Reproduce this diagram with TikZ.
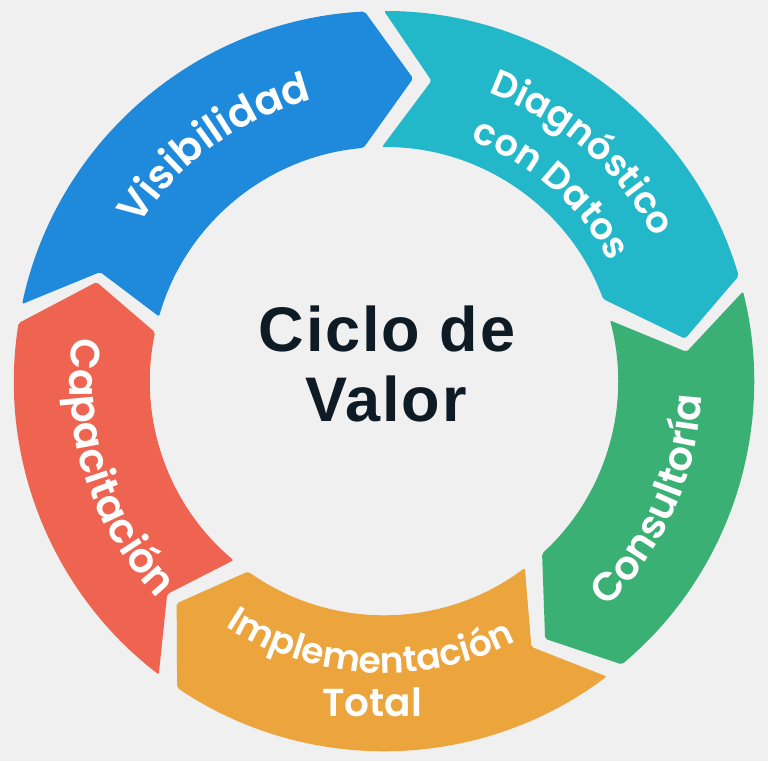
\documentclass[tikz,border=0pt]{standalone}
\usepackage{fontspec}
\usetikzlibrary{decorations.text}
\newfontfamily\labfont{Poppins}[BoldFont={Poppins SemiBold}]
\newfontfamily\cenfont{Liberation Sans}[LetterSpace=3]
\definecolor{bg}{HTML}{F0F0F0}
\definecolor{cblue}{HTML}{1F8ADB}
\definecolor{cteal}{HTML}{22B7C9}
\definecolor{cgreen}{HTML}{3AB075}
\definecolor{corange}{HTML}{ECA43C}
\definecolor{cred}{HTML}{EF6450}
\definecolor{navy}{HTML}{0E1A24}
\def\Ro{370}
\def\Ri{234}
\def\Rm{304}
% color, outer start, inner start, notch, outer end, inner end, tip
\newcommand\cycseg[7]{%
  \fill[#1, rounded corners=2pt] (#2:\Ro) arc[start angle=#2, end angle=#5, radius=\Ro]
    -- (#7:\Rm) -- (#6:\Ri) arc[start angle=#6, end angle=#3, radius=\Ri]
    -- (#4:\Rm) -- cycle;}
\newcommand\lbl[1]{\labfont\bfseries\fontsize{#1}{#1}\selectfont\color{white}}
\begin{document}
\begin{tikzpicture}[x=1pt,y=1pt,
  curvlab/.style={decorate, decoration={text along path, text align=center, text={#1}}}]
\fill[bg] (-384,-380) rectangle (384,381);
\useasboundingbox (-384,-380) rectangle (384,381);
\cycseg{cblue}{168}{164}{159}{93}{95}{84.5}
\cycseg{cteal}{90}{90.5}{81}{16.5}{20.5}{8}
\cycseg{cgreen}{14}{15}{5.5}{-50}{-47.5}{-58}
\cycseg{corange}{-53}{-53}{-61}{-124}{-125.5}{-133}
\cycseg{cred}{232.5}{230}{224.5}{171}{168}{161}
% curved labels
\path[curvlab={|\lbl{41}|Visibilidad}] (158:290) arc[start angle=158, end angle=94, radius=290];
\path[curvlab={|\lbl{37}|Diagnóstico}] (89:306) arc[start angle=89, end angle=9, radius=306];
\path[curvlab={|\lbl{37}|con Datos}] (89:255) arc[start angle=89, end angle=9, radius=255];
\path[curvlab={|\lbl{40}|Consultoría}] (-64:318) arc[start angle=-64, end angle=16, radius=318];
\path[curvlab={|\lbl{41}|Capacitación}] (158:314) arc[start angle=158, end angle=238, radius=314];
\path[curvlab={|\lbl{36}|Implementación}] (227:292) arc[start angle=227, end angle=307, radius=292];
\node[anchor=base, inner sep=0pt, font=\lbl{39}] (total) at (-12,-335) {Total};
% centre title
\node[anchor=base, inner sep=0pt, text=navy, font=\cenfont\bfseries\fontsize{63}{63}\selectfont] (ciclo) at (3,30) {Ciclo de};
\node[anchor=base, inner sep=0pt, text=navy, font=\cenfont\bfseries\fontsize{63}{63}\selectfont] (valor) at (2,-40) {Valor};
\end{tikzpicture}
\end{document}
